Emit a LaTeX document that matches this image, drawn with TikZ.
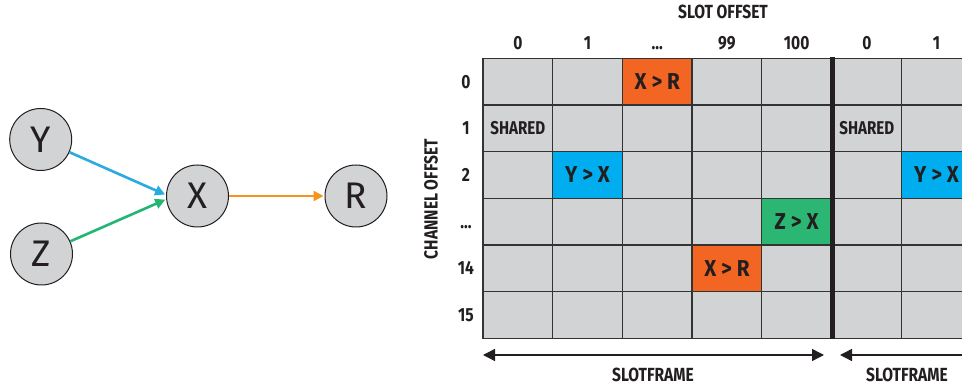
\documentclass[tikz,border=0pt]{standalone}
\usepackage{fontspec}
\setmainfont{Fira Sans}
\newfontfamily\condb{Fira Sans}[FakeStretch=0.82]
\newfontfamily\condc{Fira Sans}[FakeStretch=0.9]
\usetikzlibrary{arrows.meta}
\newcommand\myell{...}
\definecolor{cellgray}{HTML}{D1D3D4}
\definecolor{gridline}{HTML}{333333}
\definecolor{corange}{HTML}{F26522}
\definecolor{cblue}{HTML}{00AEEF}
\definecolor{cgreen}{HTML}{2BB673}
\definecolor{aorange}{HTML}{F7941E}
\definecolor{ablue}{HTML}{29ABE2}
\definecolor{agreen}{HTML}{22B573}
\definecolor{ink}{HTML}{231F20}
\tikzset{
  gnode/.style={circle, draw=ink, line width=1pt, fill=cellgray, minimum size=62pt, inner sep=0pt,
    font=\fontsize{37}{37}\selectfont, text=ink},
  garrow/.style={line width=2.6pt, -{Triangle[length=10pt,width=10pt]}, shorten >=1pt},
  cell/.style={draw=gridline, line width=1.3pt, fill=cellgray, minimum width=69.7pt, minimum height=46.7pt,
    inner sep=0pt, text=ink, font=\condc\bfseries\fontsize{23}{23}\selectfont},
  sharedtxt/.style={font=\condb\bfseries\fontsize{18.5}{18.5}\selectfont},
  lbl/.style={text=ink, inner sep=0pt, font=\condb\bfseries\fontsize{19}{19}\selectfont},
  sfarrow/.style={line width=1.4pt, draw=ink},
}
\begin{document}
\begin{tikzpicture}[x=1pt,y=-1pt]
\clip (0,0) rectangle (962,387);
\fill[white] (0,0) rectangle (962,387);
% graph
\node[gnode] (Y) at (40.7,139.5) {Y};
\node[gnode] (Z) at (41.5,254) {Z};
\node[gnode] (X) at (197.5,196) {X};
\node[gnode] (R) at (356,196) {R};
\draw[garrow, ablue] (Y) -- (X.178);
\draw[garrow, agreen] (Z) -- (X.186);
\draw[garrow, aorange] (X) -- (R);
% grid
\foreach \c/\x in {0/517.85,1/587.55,2/657.25,3/726.95,4/796.65,5/866.85,6/936.55}{
  \foreach \r/\y in {0/81.65,1/128.3,2/175,3/221.65,4/268.3,5/315}{
    \node[cell] (c-\c-\r) at (\x,\y) {};
  }
}
\node[cell, fill=corange] (xr1) at (c-2-0) {X > R};
\node[cell, fill=corange] (xr2) at (c-3-4) {X > R};
\node[cell, fill=cblue] (yx1) at (c-1-2) {Y > X};
\node[cell, fill=cblue] (yx2) at (c-6-2) {Y > X};
\node[cell, fill=cgreen] (zx) at (c-4-3) {Z > X};
\node[lbl, sharedtxt] (sh1) at (c-0-1) {SHARED};
\node[lbl, sharedtxt] (sh2) at (c-5-1) {SHARED};
% thick separator
\draw[ink, line width=5pt] (c-4-0.north east) ++(0,-0.6) coordinate (sepT) -- (c-4-5.south east) coordinate (sepB);
% headers
\node[lbl] (slotoff) at (723,12) {SLOT OFFSET};
\foreach \c/\t in {0/0,1/1,2/\myell,3/99,4/100,5/0,6/1}{
  \node[lbl] (h-\c) at (c-\c-0 |- 0,43) {\vphantom{0}\t};
}
\foreach \r/\t in {0/0,1/1,2/2,3/\myell,4/14,5/15}{
  \node[lbl] (r-\r) at (c-0-\r -| 466,0) {\vphantom{0}\t};
}
\node[lbl, rotate=90] (choff) at (431,199) {CHANNEL OFFSET};
% slotframe arrows
\coordinate (sfA) at (483,355);
\coordinate (sfB) at (824,355);
\coordinate (sfC) at (840,355);
\coordinate (sfD) at (975,355);
\draw[sfarrow, {Triangle[length=12pt,width=12pt]}-{Triangle[length=12pt,width=12pt]}] (sfA) -- (sfB);
\draw[sfarrow, {Triangle[length=12pt,width=12pt]}-] (sfC) -- (sfD);
\node[lbl] (sf1) at (653,375) {SLOTFRAME};
\node[lbl] (sf2) at (907,375) {SLOTFRAME};
\end{tikzpicture}
\end{document}
